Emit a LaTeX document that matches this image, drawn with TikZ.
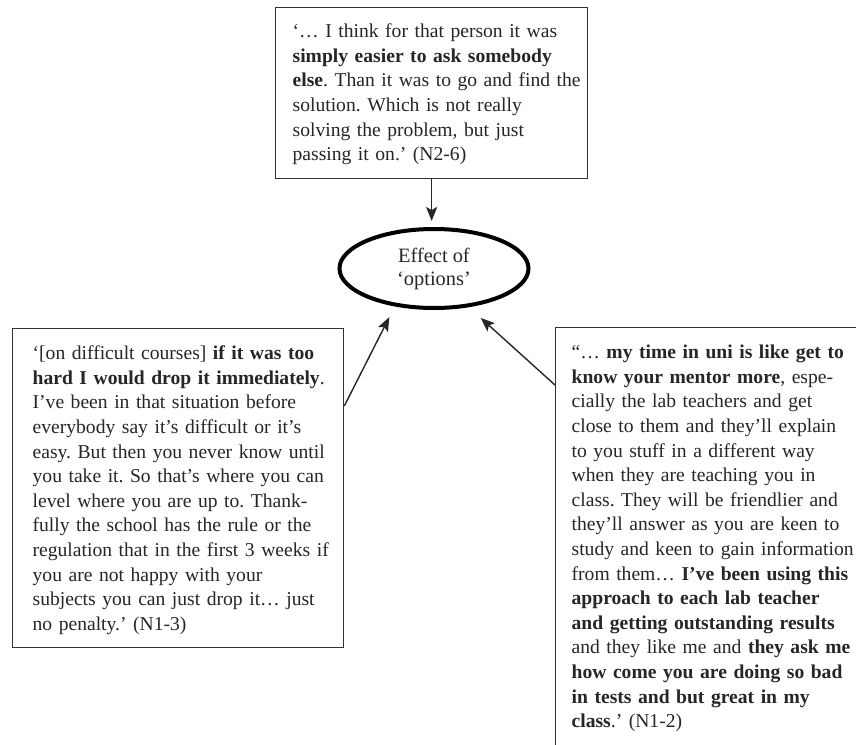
\documentclass[tikz,border=0pt]{standalone}
\usepackage{fontspec}
\setmainfont{Liberation Serif}
\usetikzlibrary{calc,shapes.geometric,arrows.meta}

% vertical spacers for the first and last line of a quote box
\newcommand\topgap[1]{\rule{0pt}{#1}}
\newcommand\botgap[1]{\rule[-#1]{0pt}{#1}\par}

\begin{document}
\frenchspacing
\begin{tikzpicture}[x=1pt,y=-1pt,
  quote/.style={draw=black!80, line width=1.3pt, rectangle, anchor=north west,
    align=left, inner xsep=0pt, inner ysep=0pt, text=black!85,
    font=\fontsize{19.6}{24.6}\selectfont\frenchspacing},
  topic/.style={ellipse, draw=black, line width=4pt, minimum width=189pt,
    minimum height=79pt, inner sep=0pt, align=center, text=black!85,
    font=\fontsize{20.4}{23}\selectfont},
  link/.style={draw=black!85, line width=1.4pt,
    -{Stealth[length=14pt,width=11pt,inset=3pt]}}]

\useasboundingbox (0,0) rectangle (856,744);
\fill[white] (0,0) rectangle (856,744);

% central theme
\node[topic] (eff) at (434,268.5) {Effect of\\‘options’};

% quotes
\node[quote, text width=312pt] (tbox) at (275,7) {\leftskip=17pt\topgap{30pt}‘… I think for that person it was\\
\textbf{simply easier to ask somebody}\\
\textbf{else}. Than it was to go and find the\\
solution. Which is not really\\
solving the problem, but just\\
passing it on.’ (N2-6)\botgap{18pt}};

\node[quote, text width=331pt] (lbox) at (12,328) {\leftskip=20pt\topgap{31pt}‘[on difficult courses] \textbf{if it was too}\\
\textbf{hard I would drop it immediately}.\\
I’ve been in that situation before\\
everybody say it’s difficult or it’s\\
easy. But then you never know until\\
you take it. So that’s where you can\\
level where you are up to. Thank-\\
fully the school has the rule or the\\
regulation that in the first 3 weeks if\\
you are not happy with your\\
subjects you can just drop it… just\\
no penalty.’ (N1-3)\botgap{17pt}};

\node[quote, text width=345pt] (rbox) at (555,327) {\leftskip=16pt\topgap{31pt}“… \textbf{my time in uni is like get to}\\
\textbf{know your mentor more}, espe-\\
cially the lab teachers and get\\
close to them and they’ll explain\\
to you stuff in a different way\\
when they are teaching you in\\
class. They will be friendlier and\\
they’ll answer as you are keen to\\
study and keen to gain information\\
from them… \textbf{I’ve been using this}\\
\textbf{approach to each lab teacher}\\
\textbf{and getting outstanding results}\\
and they like me and \textbf{they ask me}\\
\textbf{how come you are doing so bad}\\
\textbf{in tests and but great in my}\\
\textbf{class}.’ (N1-2)\botgap{40pt}};

% arrow start points on the box edges
\coordinate (lfrom) at ($(lbox.north east)+(0,78)$);
\coordinate (rfrom) at ($(rbox.north west)+(0,58)$);

\draw[link, shorten >=6pt] (tbox.south) -- (tbox.south |- eff.north);
\draw[link, shorten >=12pt] (lfrom) -- (eff.224);
\draw[link, shorten >=16pt] (rfrom) -- (eff.312);
\end{tikzpicture}
\end{document}
